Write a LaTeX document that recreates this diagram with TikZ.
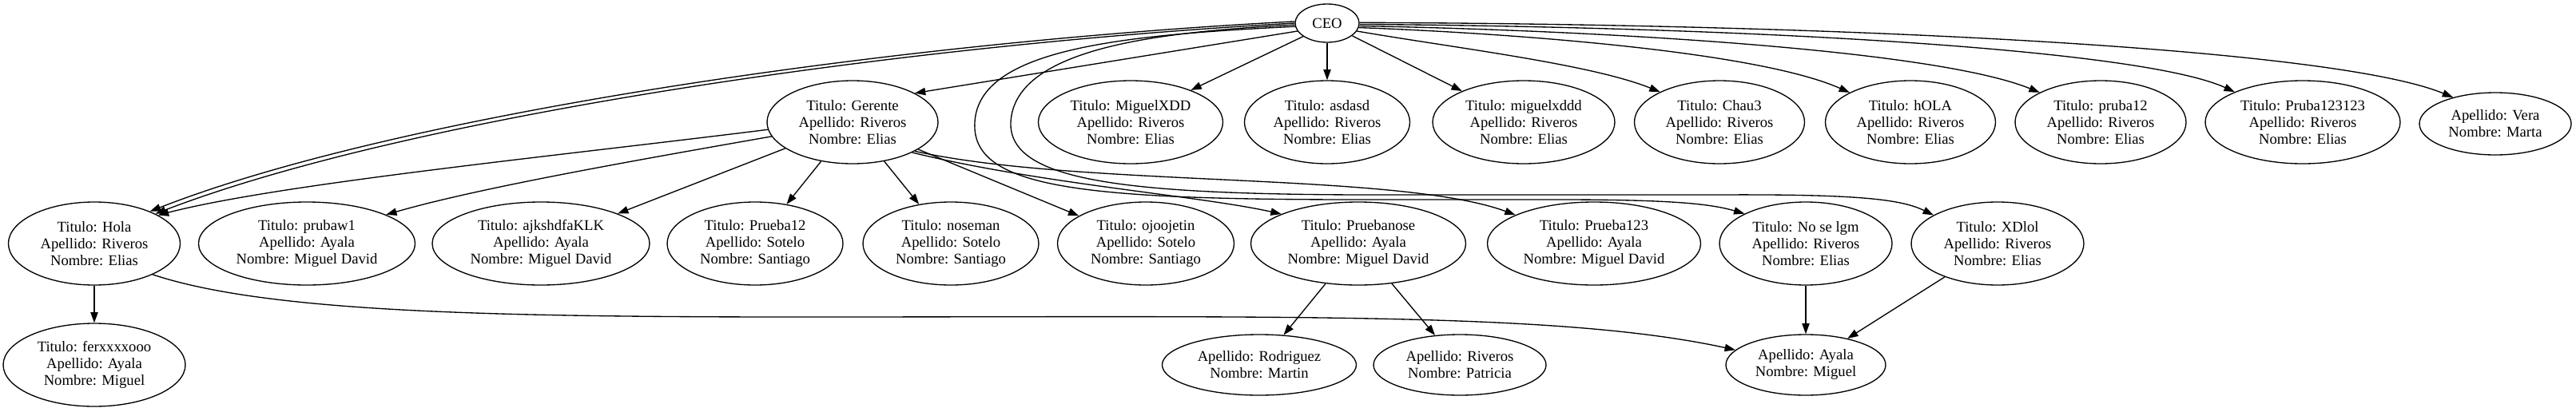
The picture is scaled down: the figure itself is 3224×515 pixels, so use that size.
\documentclass[tikz,border=0pt]{standalone}
\usepackage{fontspec}
\setmainfont{Liberation Serif}
\usetikzlibrary{arrows.meta,shapes.geometric}
\newcommand\gvf{\fontsize{14}{15.75}\selectfont}
\begin{document}
\begin{tikzpicture}[x=0.75pt,y=-0.75pt,
  nd/.style={draw, ellipse, inner sep=0pt, align=center, font=\gvf, line width=1pt},
  sz/.style 2 args={minimum width=#1*0.75pt, minimum height=#2*0.75pt},
  ed/.style={draw, line width=1pt, -{Triangle[length=10pt,width=7pt]}}]
\fill[white] (0,0) rectangle (3224,515);
\useasboundingbox (0,0) rectangle (3224,515);
% row 1
\node[nd,sz={80}{48}] (ceo) at (1661,29) {CEO};
% row 2
\node[nd,sz={214}{104}] (gerente) at (1067,153) {Titulo: Gerente\\Apellido: Riveros\\Nombre: Elias};
\node[nd,sz={231}{104}] (miguelXDD) at (1415,153) {Titulo: MiguelXDD\\Apellido: Riveros\\Nombre: Elias};
\node[nd,sz={207}{104}] (asdasd) at (1661,153) {Titulo: asdasd\\Apellido: Riveros\\Nombre: Elias};
\node[nd,sz={228}{104}] (miguelxddd) at (1907,153) {Titulo: miguelxddd\\Apellido: Riveros\\Nombre: Elias};
\node[nd,sz={213}{104}] (chau) at (2152,153) {Titulo: Chau3\\Apellido: Riveros\\Nombre: Elias};
\node[nd,sz={213}{104}] (hOLA) at (2391,153) {Titulo: hOLA\\Apellido: Riveros\\Nombre: Elias};
\node[nd,sz={214}{104}] (pruba12) at (2629,153) {Titulo: pruba12\\Apellido: Riveros\\Nombre: Elias};
\node[nd,sz={244}{104}] (pruba123123) at (2882,153) {Titulo: Pruba123123\\Apellido: Riveros\\Nombre: Elias};
\node[nd,sz={190}{78}] (vera) at (3123,155) {Apellido: Vera\\Nombre: Marta};
% row 3
\node[nd,sz={215}{104}] (hola) at (118,305) {Titulo: Hola\\Apellido: Riveros\\Nombre: Elias};
\node[nd,sz={271}{104}] (prubaw) at (384,305) {Titulo: prubaw1\\Apellido: Ayala\\Nombre: Miguel David};
\node[nd,sz={272}{104}] (ajk) at (677,305) {Titulo: ajkshdfaKLK\\Apellido: Ayala\\Nombre: Miguel David};
\node[nd,sz={220}{104}] (prueba12) at (945,305) {Titulo: Prueba12\\Apellido: Sotelo\\Nombre: Santiago};
\node[nd,sz={220}{104}] (noseman) at (1190,305) {Titulo: noseman\\Apellido: Sotelo\\Nombre: Santiago};
\node[nd,sz={221}{104}] (ojo) at (1434,305) {Titulo: ojoojetin\\Apellido: Sotelo\\Nombre: Santiago};
\node[nd,sz={269}{104}] (pruebanose) at (1700,305) {Titulo: Pruebanose\\Apellido: Ayala\\Nombre: Miguel David};
\node[nd,sz={267}{104}] (prueba123) at (1995,305) {Titulo: Prueba123\\Apellido: Ayala\\Nombre: Miguel David};
\node[nd,sz={216}{104}] (nose) at (2260,305) {Titulo: No se lgm\\Apellido: Riveros\\Nombre: Elias};
\node[nd,sz={216}{104}] (xd) at (2500,305) {Titulo: XDlol\\Apellido: Riveros\\Nombre: Elias};
% row 4
\node[nd,sz={228}{104}] (ferx) at (118,457) {Titulo: ferxxxxooo\\Apellido: Ayala\\Nombre: Miguel};
\node[nd,sz={243}{76}] (rodri) at (1576,457) {Apellido: Rodriguez\\Nombre: Martin};
\node[nd,sz={216}{76}] (patri) at (1827,457) {Apellido: Riveros\\Nombre: Patricia};
\node[nd,sz={200}{76}] (ayala) at (2260,457) {Apellido: Ayala\\Nombre: Miguel};
% CEO edges
\draw[ed] (ceo.195) -- (gerente.25);
\draw[ed] (ceo.209) -- (miguelXDD.28);
\draw[ed] (ceo) -- (asdasd);
\draw[ed] (ceo) -- (miguelxddd);
\draw[ed] (ceo.-15) .. controls (1820,60) and (1990,80) .. (chau.153);
\draw[ed] (ceo.-8) .. controls (1900,42) and (2200,65) .. (hOLA.154);
\draw[ed] (ceo.-5) .. controls (2000,38) and (2420,62) .. (pruba12.154);
\draw[ed] (ceo.-2) .. controls (2200,34) and (2680,62) .. (pruba123123.156);
\draw[ed] (ceo.1) .. controls (2300,30) and (2920,60) .. (vera.148);
\draw[ed] (ceo.180) .. controls (1100,58) and (500,150) .. (hola.26);
\draw[ed] (ceo.177) .. controls (1100,54) and (490,146) .. (hola.30);
\draw[ed] (ceo.183) .. controls (1450,40) and (1270,60) .. (1265,153)
  .. controls (1262,225) and (1400,243) .. (1700,244) -- (2150,244)
  .. controls (2330,243) and (2380,250) .. (xd.156);
\draw[ed] (ceo.186) .. controls (1400,44) and (1225,62) .. (1220,153)
  .. controls (1215,235) and (1350,250) .. (1700,250) -- (1950,250)
  .. controls (2090,250) and (2140,255) .. (nose.154);
% Gerente edges
\draw[ed] (gerente.185) .. controls (700,195) and (350,230) .. (hola.24);
\draw[ed] (gerente.190) .. controls (800,200) and (600,235) .. (prubaw.20);
\draw[ed] (gerente) -- (ajk);
\draw[ed] (gerente) -- (prueba12);
\draw[ed] (gerente) -- (noseman);
\draw[ed] (gerente) -- (ojo);
\draw[ed] (gerente.-27) .. controls (1300,230) and (1500,245) .. (pruebanose.159);
\draw[ed] (gerente.-25) .. controls (1350,235) and (1750,215) .. (prueba123.160);
% lower edges
\draw[ed] (hola) -- (ferx);
\draw[ed] (hola.-28) .. controls (330,390) and (600,397) .. (1000,397)
  .. controls (1600,397) and (1950,390) .. (ayala.168);
\draw[ed] (pruebanose) -- (rodri);
\draw[ed] (pruebanose) -- (patri);
\draw[ed] (nose) -- (ayala);
\draw[ed] (xd) -- (ayala);
\end{tikzpicture}
\end{document}
